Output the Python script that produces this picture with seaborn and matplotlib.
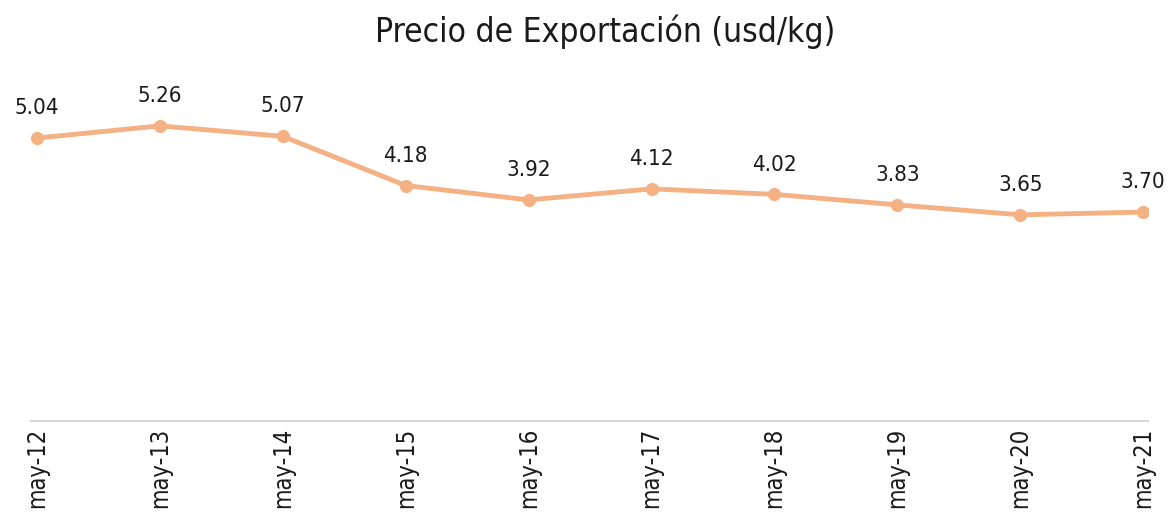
import matplotlib
matplotlib.use("Agg")
import matplotlib.pyplot as plt
import seaborn as sns
import pandas as pd

meses = ['may-12', 'may-13', 'may-14', 'may-15', 'may-16',
         'may-17', 'may-18', 'may-19', 'may-20', 'may-21']
precio = [5.04, 5.26, 5.07, 4.18, 3.92, 4.12, 4.02, 3.83, 3.65, 3.70]

sns.set_style('white')
plt.rcParams['font.family'] = ['DejaVu Sans']
plt.rcParams['font.stretch'] = 'condensed'

df = pd.DataFrame({'mes': meses, 'precio': precio})

fig = plt.figure(figsize=(11.7, 5.17), dpi=100)
ax = fig.add_axes([0.0265, 0.1857, 0.9547, 0.650])

color = '#F4B183'
sns.lineplot(data=df, x='mes', y='precio', ax=ax, color=color, linewidth=3.5,
             marker='o', markersize=9.5, markeredgewidth=0, sort=False)

for i, v in enumerate(precio):
    ax.annotate(f'{v:.2f}', (i, v), xytext=(0, 21.5), textcoords='offset points',
                ha='center', va='center', fontsize=16, color='#1a1a1a')

ax.set_xlim(-0.05, 9.04)
ax.set_ylim(-0.08, 6.0)
ax.set_yticks([])
ax.set_xlabel('')
ax.set_ylabel('')
for s in ['top', 'left', 'right']:
    ax.spines[s].set_visible(False)
ax.spines['bottom'].set_color('#d9d9d9')
ax.spines['bottom'].set_linewidth(1.5)
ax.tick_params(axis='x', length=0, pad=5, labelsize=17, labelcolor='#1a1a1a')
plt.setp(ax.get_xticklabels(), rotation=90, va='top', ha='center')

fig.text(0.517, 0.972, 'Precio de Exportación (usd/kg)', fontsize=24,
         ha='center', va='top', color='#1a1a1a')

fig.savefig('out.png', dpi=100)
